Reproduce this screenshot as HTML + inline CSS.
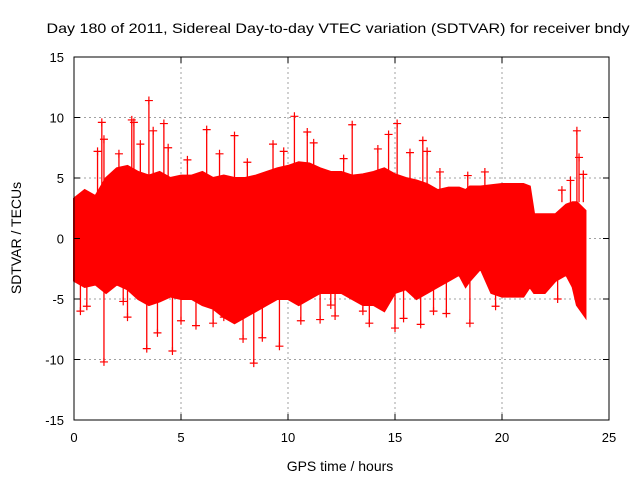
<!DOCTYPE html>
<html><head><meta charset="utf-8"><style>
body{margin:0;background:#fff}
svg{display:block;font-family:"Liberation Sans",sans-serif}
</style></head><body>
<svg id="chart" width="640" height="480" viewBox="0 0 640 480" xmlns="http://www.w3.org/2000/svg">
<rect width="640" height="480" fill="#fff"/>
<text x="338" y="33" font-size="14" text-anchor="middle" textLength="583" lengthAdjust="spacingAndGlyphs">Day 180 of 2011, Sidereal Day-to-day VTEC variation (SDTVAR) for receiver bndy</text>
<g id="grid"></g>
<g id="body"></g>
<g id="ticks"></g>
<text x="340" y="471" font-size="14" text-anchor="middle">GPS time / hours</text>
<text transform="translate(21,238) rotate(-90)" font-size="14" text-anchor="middle">SDTVAR / TECUs</text>
</svg>
<script>
const xTicks=[0,5,10,15,20,25];
const yTicks=[-15,-10,-5,0,5,10,15];
const hours=[0,0.5,1,1.5,2,2.5,3,3.5,4,4.5,5,5.5,6,6.5,7,7.5,8,8.5,9,9.5,10,10.5,11,11.5,12,12.5,13,13.5,14,14.5,15,15.5,16,16.5,17,17.5,18,18.3,18.5,19,19.5,20,20.5,21,21.3,21.5,22,22.5,23,23.3,23.5,23.9];
const upper=[3.3,4,3.5,5,5.8,6,5.5,5.2,5.5,5,5.2,5.2,5.5,5,5.2,5,5,5.2,5.5,5.8,6,6.3,6.2,5.8,5.5,5.5,5.2,5.3,5.5,5.8,5.3,5,4.8,4.5,4,4.2,4.2,4,4.3,4.3,4.4,4.5,4.5,4.5,4.3,2,2,2,2.8,3,3,2.3];
const lower=[-3.5,-4,-3.8,-4.5,-3.8,-4.2,-5,-5.5,-5.2,-4.8,-5,-5,-5.5,-5.8,-6.5,-7,-6.5,-6,-5.5,-5,-5,-5.5,-5,-4.5,-4.5,-4.5,-5,-5.5,-5.5,-6,-4.5,-4.2,-5,-4.5,-4,-3.5,-3,-4,-3.5,-2.5,-4.5,-4.8,-4.8,-4.8,-4,-4.5,-4.5,-3.5,-3,-4,-5.5,-6.5];
const outH=[3.5,1.3,1.4,2.8,3.7,4.2,6.2,10.3,13,15.1,16.3,23.5,23.6,23.8,18.4,1.4,3.4,4.6,8.4,9.6,11.5,13.5,12,18.5,15,16.2,7,5.7,2.3,17.4,2.7,7.5,9.3,14.7,10.9,16.5,0.3,8.8,1.1,2.1,3.1,4.4,5.3,6.8,8.1,9.8,11.2,12.6,14.2,15.7,17.1,19.2,22.8,23.2,0.6,2.5,3.9,5.0,6.5,7.9,10.6,12.2,13.8,15.4,16.8,19.7,22.6];
const outV=[11.4,9.6,8.2,9.6,8.9,9.5,9,10.1,9.4,9.5,8.1,8.9,6.7,5.3,5.2,-10.2,-9.1,-9.3,-10.3,-8.9,-6.7,-6,-5.5,-7,-7.4,-7.1,-6.5,-7.2,-5.2,-6.2,9.8,8.5,7.8,8.6,8.8,7.2,-6,-8.2,7.2,7.0,7.8,7.5,6.5,7.0,6.3,7.2,7.9,6.6,7.4,7.1,5.5,5.5,4.0,4.8,-5.6,-6.5,-7.8,-6.8,-7.0,-8.3,-6.8,-6.4,-7.0,-6.6,-6.0,-5.6,-5.0];
const X0=74,X1=609,Y0=420,Y1=57;
const sx=h=>X0+(h-0)/(25-0)*(X1-X0);
const sy=v=>Y0-(v+15)/30*(Y0-Y1);
const NS="http://www.w3.org/2000/svg";
function mk(tag,attrs,parent){const e=document.createElementNS(NS,tag);for(const k in attrs)e.setAttribute(k,attrs[k]);parent.appendChild(e);return e;}
const grid=document.getElementById('grid'),ticks=document.getElementById('ticks'),body=document.getElementById('body');
xTicks.forEach(t=>{
  if(t>0&&t<25){const l=mk('line',{x1:sx(t),x2:sx(t),y1:Y1,y2:Y0,stroke:'#a0a0a0','stroke-dasharray':'2,3'},grid);
  
  }
  const tk=mk('text',{x:sx(t),y:Y0+22,'font-size':13,'text-anchor':'middle'},ticks);tk.textContent=t;
  
  
  mk('line',{x1:sx(t),x2:sx(t),y1:Y0,y2:Y0-6,stroke:'#000'},ticks);
  mk('line',{x1:sx(t),x2:sx(t),y1:Y1,y2:Y1+6,stroke:'#000'},ticks);
});
yTicks.forEach(t=>{
  if(t>-15&&t<15){const l=mk('line',{x1:X0,x2:X1,y1:sy(t),y2:sy(t),stroke:'#a0a0a0','stroke-dasharray':'2,3'},grid);
  
  }
  const tk=mk('text',{x:X0-10,y:sy(t)+5,'font-size':13,'text-anchor':'end'},ticks);tk.textContent=t;
  
  
  mk('line',{x1:X0,x2:X0+6,y1:sy(t),y2:sy(t),stroke:'#000'},ticks);
  mk('line',{x1:X1,x2:X1-6,y1:sy(t),y2:sy(t),stroke:'#000'},ticks);
});
const fr=mk('rect',{x:X0,y:Y1,width:X1-X0,height:Y0-Y1,fill:'none',stroke:'#000'},ticks);


let pts=[];
hours.forEach((h,i)=>pts.push(sx(h)+','+sy(upper[i])));
for(let i=hours.length-1;i>=0;i--)pts.push(sx(hours[i])+','+sy(lower[i]));
const poly=mk('polygon',{points:pts.join(' '),fill:'#ff0000',stroke:'#ff0000','stroke-width':2},body);


outH.forEach((h,i)=>{
  const x=sx(h),y=sy(outV[i]);
  mk('line',{x1:x,x2:x,y1:sy(outV[i]>0?3:-3),y2:y,stroke:'#ff0000','stroke-width':1.3},body);
  const p=mk('path',{d:`M${x-4},${y}H${x+4}M${x},${y-4}V${y+4}`,stroke:'#ff0000','stroke-width':1.2},body);
  
  
});
</script>
</body></html>
